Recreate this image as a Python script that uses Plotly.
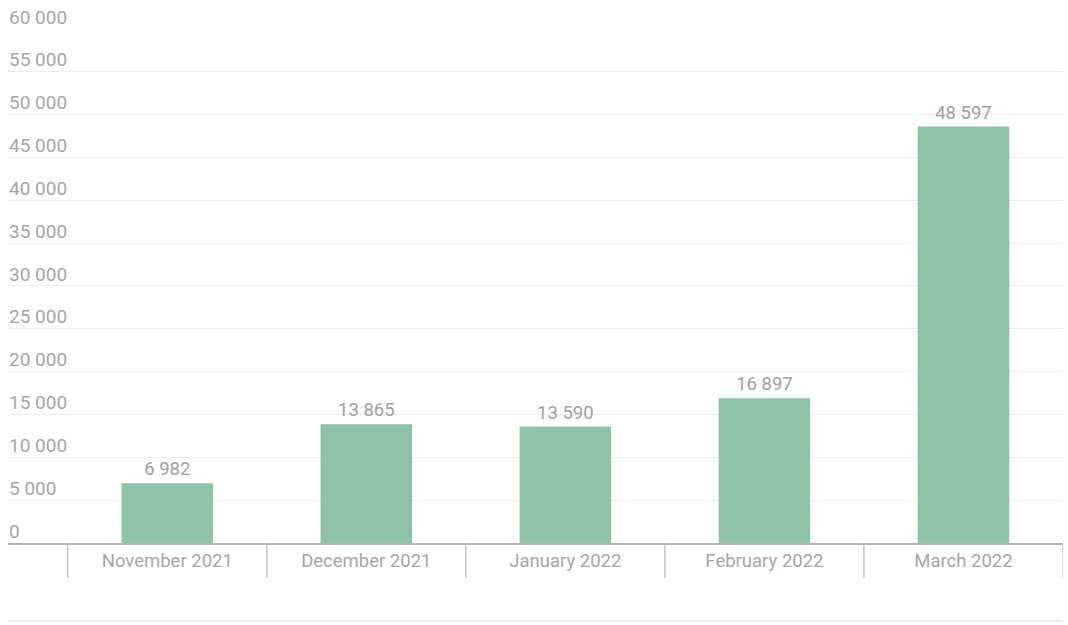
import plotly.graph_objects as go

categories = ["November 2021", "December 2021", "January 2022", "February 2022", "March 2022"]
values = [6982, 13865, 13590, 16897, 48597]
y_ticks = list(range(0, 60001, 5000))

PLOT_H = 515

fig = go.Figure()
fig.add_trace(go.Bar(
    x=categories, y=values,
    marker=dict(color="#8ec3a7", line=dict(width=0)),
    width=0.46,
    text=values, texttemplate="%{y:,d}", textposition="outside",
    textfont=dict(family="Roboto", size=18.5, color="#a0a0a0"),
    cliponaxis=False,
))

shapes = []
for i in range(len(categories) + 1):
    shapes.append(dict(type="line", xref="x", yref="paper",
                       x0=i - 0.5, x1=i - 0.5, y0=0, y1=-35 / PLOT_H,
                       line=dict(color="#c4c4c4", width=1.5)))
shapes.append(dict(type="line", xref="paper", yref="paper",
                   x0=0, x1=1, y0=-78 / PLOT_H, y1=-78 / PLOT_H,
                   line=dict(color="#e3e3e3", width=1.5)))

fig.update_layout(
    width=1068, height=625,
    margin=dict(l=8, r=5, t=28, b=82, autoexpand=False),
    paper_bgcolor="white", plot_bgcolor="white",
    separators=". ",
    showlegend=False,
    shapes=shapes,
    font=dict(family="Roboto", size=18.5, color="#a6a6a6"),
    xaxis=dict(
        type="category",
        range=[-0.8, 4.5],
        automargin=False,
        showgrid=False,
        showline=True, linecolor="#b4b4b4", linewidth=2,
        ticks="",
        tickfont=dict(family="Roboto", size=18.5, color="#a6a6a6"),
    ),
    yaxis=dict(
        range=[0, 60100],
        automargin=False,
        tickvals=y_ticks,
        tickformat=",d",
        showgrid=True, gridcolor="#ececec", gridwidth=1,
        zeroline=False,
        showline=False,
        ticks="",
        ticklabelposition="inside",
        ticklabeloverflow="allow",
        ticklabelshift=-12,
        ticklabelstandoff=-2,
        tickfont=dict(family="Roboto", size=19, color="#a6a6a6"),
    ),
)

fig.write_html(
    "out.html",
    config={"displayModeBar": False},
    post_script="document.body.style.margin='0';document.body.style.overflow='hidden';",
)
